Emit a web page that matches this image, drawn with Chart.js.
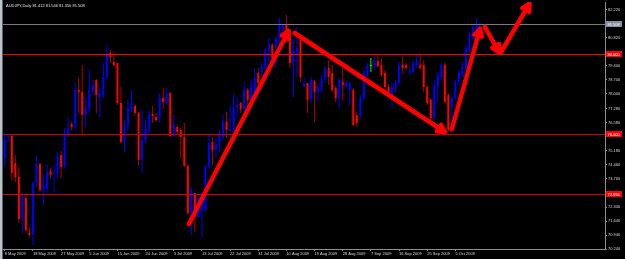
<!DOCTYPE html>
<html><head><meta charset="utf-8">
<script src="https://cdn.jsdelivr.net/npm/chart.js@4.4.1/dist/chart.umd.min.js"></script>
<style>html,body{margin:0;padding:0;background:#000;overflow:hidden}canvas{display:block}</style>
</head><body>
<canvas id="c" width="625" height="259"></canvas>
<script>
const symbol = "AUDJPY,Daily";
const dateLabels = ["8 May 2009","18 May 2009","27 May 2009","5 Jun 2009","15 Jun 2009","24 Jun 2009","3 Jul 2009","13 Jul 2009","22 Jul 2009","31 Jul 2009","10 Aug 2009","19 Aug 2009","28 Aug 2009","7 Sep 2009","16 Sep 2009","25 Sep 2009","5 Oct 2009"];
const labelEvery = 8;
const futureSlots = 35;

const open = [74.80,75.80,75.90,74.55,73.85,71.75,72.80,71.05,70.95,73.55,74.50,73.20,73.25,74.15,74.00,74.05,74.95,74.35,75.95,76.50,
76.35,78.20,78.10,76.95,77.30,78.20,78.70,77.85,77.95,78.85,80.05,79.60,79.55,77.55,75.60,76.45,77.25,77.40,77.05,74.70,
75.70,76.25,77.00,76.85,76.80,77.80,77.55,78.05,75.90,76.35,76.20,75.85,74.40,72.05,73.05,71.85,72.20,72.20,74.35,75.60,
75.25,75.45,75.85,76.60,76.15,76.25,77.30,77.55,77.25,78.20,77.70,77.95,79.05,79.10,79.30,80.20,80.45,80.35,80.80,81.30,
81.45,80.85,79.55,80.10,80.80,78.40,78.55,77.75,78.65,78.10,78.35,78.80,79.30,79.05,78.30,77.80,78.60,78.40,78.20,78.20,
76.95,76.95,77.80,78.95,79.40,79.35,79.65,79.45,79.05,78.35,77.80,78.30,78.55,79.45,79.45,79.05,79.10,79.45,79.45,79.45,
78.35,77.70,76.80,78.35,78.85,79.45,77.95,77.35,77.80,78.60,78.95,79.30,80.20,80.85,81.30,81.412];
const high = [76.05,76.00,75.95,74.95,74.35,73.05,73.05,71.35,73.60,74.90,74.55,73.95,74.50,74.30,74.45,75.10,75.15,76.30,76.85,76.60,
78.55,78.80,79.45,77.85,79.25,78.70,78.75,78.35,79.55,80.45,80.20,80.10,79.55,78.35,76.70,77.70,78.20,77.45,77.10,77.20,
76.70,77.20,77.40,77.05,78.05,78.30,78.30,78.10,76.95,76.40,76.30,76.55,74.50,73.35,73.05,72.90,73.10,74.45,75.95,75.85,
75.80,76.20,76.95,77.10,77.45,78.00,77.85,77.60,78.60,78.30,78.70,79.30,79.30,79.55,80.30,80.80,80.55,80.85,81.80,81.55,
81.95,80.95,80.80,81.35,80.90,78.80,78.55,78.85,78.70,78.45,78.95,79.40,79.70,79.45,78.40,78.80,79.30,78.70,78.60,78.30,
77.10,77.95,79.20,79.55,79.80,79.85,79.95,79.80,79.20,78.50,78.60,78.70,79.60,79.85,79.55,79.30,79.65,79.95,79.95,79.70,
78.45,77.80,78.70,79.10,79.55,79.55,78.05,77.95,78.70,79.20,79.60,80.45,81.10,81.45,81.80,81.546];
const low = [74.35,75.60,73.70,73.60,71.55,71.05,71.05,70.85,70.45,73.35,73.10,72.45,73.05,73.80,73.05,73.80,73.80,74.30,75.85,76.20,
76.20,77.05,76.00,76.30,77.05,77.95,77.05,76.85,77.80,78.70,79.55,79.35,77.45,75.55,75.10,76.20,77.10,76.95,74.40,74.05,
75.55,76.05,76.55,76.60,76.55,77.30,77.45,75.85,75.85,76.00,74.80,74.35,71.95,70.95,71.10,71.80,70.80,72.10,74.30,74.45,
74.80,75.10,75.70,75.80,76.05,76.15,76.85,77.05,77.10,77.10,77.45,77.80,78.20,78.80,79.20,79.60,79.60,79.35,80.00,81.10,
80.60,79.30,77.85,78.85,78.60,78.35,77.05,77.55,76.60,77.60,78.05,78.60,78.45,78.10,77.60,77.30,77.70,78.30,77.45,76.40,
76.35,76.80,77.70,78.85,79.10,79.20,79.30,78.85,78.10,77.90,77.30,78.10,78.45,79.05,79.20,78.95,79.05,79.30,79.20,78.10,
77.45,76.70,76.70,77.60,78.70,77.55,76.10,76.20,77.70,78.45,78.85,79.20,80.10,80.70,81.20,81.350];
const close = [75.70,75.85,74.05,73.85,71.75,72.85,71.20,70.95,73.55,74.50,73.20,73.45,74.10,73.95,74.05,74.95,74.35,75.95,76.30,76.35,
78.20,78.10,76.95,77.30,78.20,78.45,77.95,78.05,78.85,79.95,79.85,79.45,77.55,75.60,76.45,77.30,77.50,77.05,74.70,75.70,
76.25,77.00,76.90,76.70,77.80,77.60,78.05,75.90,76.50,76.10,75.85,74.40,72.05,73.20,71.85,72.80,72.60,74.35,75.55,75.20,
75.50,75.85,76.60,76.20,76.25,77.30,77.45,77.25,78.20,77.70,78.45,78.80,78.55,79.35,80.20,80.45,79.80,80.80,81.55,81.45,
80.80,79.55,80.20,80.30,78.85,78.50,77.70,78.70,78.10,78.35,78.75,79.30,78.85,78.20,77.80,78.70,78.45,78.55,78.55,76.45,
76.55,77.80,79.05,79.45,79.40,79.70,79.40,78.95,78.35,78.10,78.35,78.55,79.45,79.30,79.30,79.15,79.55,79.70,79.30,78.35,
77.55,76.80,78.45,78.95,79.45,77.60,76.20,77.80,78.60,79.05,79.35,80.30,80.95,81.35,81.45,81.508];

const yTickValues = [82.220,80.820,79.400,78.700,78.000,77.280,76.580,75.180,74.460,73.760,72.340,71.640,70.940,70.240];
const levelLines = [80.000, 76.000, 72.996];
const bidPrice = 81.508;
const yMin = 70.25, yMax = 82.6;
// drawn arrows: [barIndex, price] start -> end
const arrowPaths = [
  [[52.3,71.5],[80.6,81.15]],
  [[82.3,81.05],[125.0,76.1]],
  [[127.0,76.25],[135.0,81.25]],
  [[136.4,81.35],[140.4,80.1]],
  [[141.0,80.1],[149.0,82.5]]
];

const BULL='#0000ff', BEAR='#ff0000', DOJI='#00ff00', BULLW='#0000ff', BEARW='#b00000';
const slots = Array.from({length: open.length + futureSlots}, (_, i) => i);
const bodyColors = open.map((o,i)=> close[i]>o ? BULL : (close[i]<o ? BEAR : DOJI));
const wickColors = open.map((o,i)=> close[i]>o ? BULLW : (close[i]<o ? BEARW : DOJI));
const FONT = {family:'Liberation Sans', size:4};

const decor = {
  id:'decor',
  beforeDraw(chart){
    const ctx=chart.ctx; ctx.save();
    ctx.fillStyle='#000'; ctx.fillRect(0,0,chart.width,chart.height);
    ctx.fillStyle='#b8c4d0'; ctx.fillRect(0,0,2,chart.height);
    ctx.fillStyle='#606060'; ctx.fillRect(2,0,1,chart.height);
    ctx.restore();
  },
  afterDatasetsDraw(chart){
    const ctx=chart.ctx, a=chart.chartArea, y=chart.scales.y;
    ctx.save();
    ctx.lineWidth=1;
    let py=Math.round(y.getPixelForValue(bidPrice))+0.5;
    ctx.strokeStyle='#7a7a7a'; ctx.beginPath(); ctx.moveTo(a.left,py); ctx.lineTo(a.right,py); ctx.stroke();
    levelLines.forEach((v,k)=>{
      const p=Math.round(y.getPixelForValue(v))+0.5;
      ctx.strokeStyle = k===0 ? '#ff0000' : '#d00000';
      ctx.beginPath(); ctx.moveTo(a.left,p); ctx.lineTo(a.right,p); ctx.stroke();
    });
    ctx.restore();
  },
  afterDraw(chart){
    const ctx=chart.ctx, a=chart.chartArea, x=chart.scales.x, y=chart.scales.y;
    ctx.save();
    ctx.beginPath(); ctx.rect(a.left,a.top,a.right-a.left,a.bottom-a.top); ctx.clip();
    ctx.strokeStyle='#ff0000'; ctx.lineWidth=4.5; ctx.lineCap='round'; ctx.lineJoin='round';
    arrowPaths.forEach(([s,e])=>{
      const x0=x.getPixelForValue(s[0]), y0=y.getPixelForValue(s[1]);
      const x1=x.getPixelForValue(e[0]), y1=y.getPixelForValue(e[1]);
      ctx.beginPath(); ctx.moveTo(x0,y0); ctx.lineTo(x1,y1); ctx.stroke();
      const ang=Math.atan2(y1-y0,x1-x0);
      [-1,1].forEach(sg=>{
        const aa=ang+Math.PI+sg*0.5;
        ctx.beginPath(); ctx.moveTo(x1,y1); ctx.lineTo(x1+8*Math.cos(aa), y1+8*Math.sin(aa)); ctx.stroke();
      });
    });
    ctx.restore();
    ctx.save();
    ctx.font='4px "Liberation Sans"'; ctx.textBaseline='middle'; ctx.textAlign='left';
    const box=(v,fill,txt)=>{
      const p=Math.round(y.getPixelForValue(v));
      ctx.fillStyle=fill; ctx.fillRect(a.right+1,p-3,16,6);
      ctx.fillStyle=txt; ctx.fillText(v.toFixed(3), a.right+2.5, p+0.5);
    };
    box(bidPrice,'#8090a0','#ffffff');
    levelLines.forEach(v=>box(v,'#ff0000','#ffffff'));
    const n=open.length-1;
    ctx.fillStyle='#e0e0e0';
    ctx.fillText(symbol+' '+[open[n],high[n],low[n],close[n]].map(v=>v.toFixed(3)).join(' '), 6, 6);
    ctx.restore();
  }
};

new Chart(document.getElementById('c'), {
  type:'bar',
  data:{
    labels: slots,
    datasets:[
      {label:'wick', data: low.map((l,i)=>[l,high[i]]), backgroundColor: wickColors, barThickness:1, grouped:false, order:2, inflateAmount:0},
      {label:'body', data: open.map((o,i)=>[o,close[i]]), backgroundColor: bodyColors, barThickness:2, grouped:false, order:1, minBarLength:1, inflateAmount:0}
    ]
  },
  options:{
    responsive:false, devicePixelRatio:1, animation:false,
    layout:{padding:{top:2,left:3,right:0,bottom:0}},
    plugins:{legend:{display:false}, tooltip:{enabled:false}},
    scales:{
      x:{
        type:'category', offset:true,
        grid:{display:true, drawOnChartArea:false, drawTicks:true, tickLength:2, color:'#8c8c8c', offset:false},
        border:{display:true, color:'#8c8c8c'},
        ticks:{autoSkip:false, maxRotation:0, minRotation:0, align:'start', padding:0, color:'#d8d8d8', font:FONT,
          callback:(v)=>dateLabels[v/labelEvery]},
        afterBuildTicks:s=>{ s.ticks = s.ticks.filter(t=>t.value%labelEvery===0 && t.value/labelEvery<dateLabels.length); },
        afterFit:s=>{ s.height=10; s.paddingLeft=0; s.paddingRight=0; }
      },
      y:{
        position:'right', min:yMin, max:yMax,
        grid:{drawOnChartArea:false, drawTicks:true, tickLength:2, color:'#8c8c8c'},
        border:{display:true, color:'#8c8c8c'},
        ticks:{autoSkip:false, padding:1, color:'#d8d8d8', font:FONT, callback:v=>Number(v).toFixed(3)},
        afterBuildTicks:s=>{ s.ticks = yTickValues.map(v=>({value:v})); },
        afterFit:s=>{ s.width=20; s.paddingTop=0; s.paddingBottom=0; }
      }
    }
  },
  plugins:[decor]
});
</script>
</body></html>
